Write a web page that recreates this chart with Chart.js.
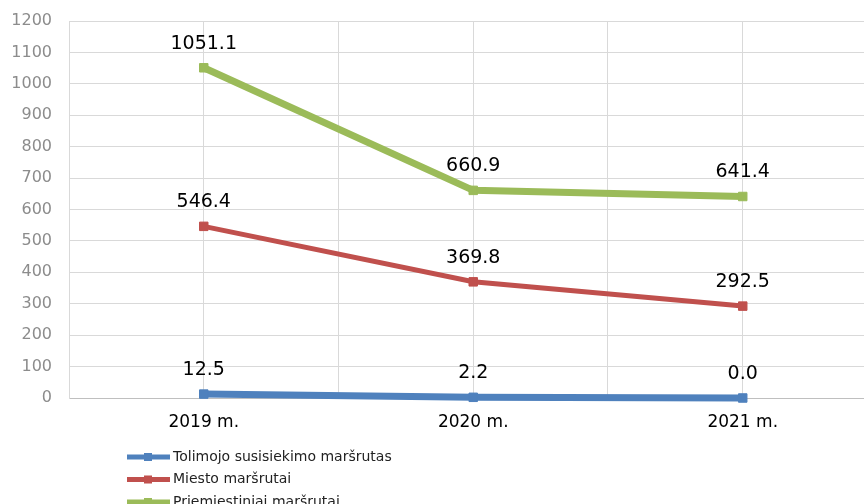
<!DOCTYPE html>
<html lang="lt">
<head>
    <meta charset="UTF-8">
    <title>Maršrutai 2019-2021</title>
    <style>
        html, body { margin: 0; padding: 0; overflow: hidden; background: #fff; }
        #myChart { display: block; }
    </style>
    <script src="https://cdn.jsdelivr.net/npm/chart.js"></script>
</head>
<body>
    <canvas id="myChart" width="864" height="504"></canvas>
    <script>
        const years = ['2019 m.', '2020 m.', '2021 m.'];
        const seriesNames = ['Tolimojo susisiekimo maršrutas', 'Miesto maršrutai', 'Priemiestiniai maršrutai'];
        const tolimojo = [12.5, 2.2, 0.0];
        const miesto = [546.4, 369.8, 292.5];
        const priemiestiniai = [1051.1, 660.9, 641.4];
        const yTicks = [0, 100, 200, 300, 400, 500, 600, 700, 800, 900, 1000, 1100, 1200];
        // grid positions on the x axis: category centres and the borders between them
        const xGrid = [0.5, 1, 1.5, 2, 2.5, 3];

        const colors = ['#4f81bd', '#c0504d', '#9bbb59'];
        const widths = [7, 5, 7];

        function toPoints(values) {
            return values.map((v, i) => ({ x: i + 1, y: v }));
        }

        // value labels above each point
        const valueLabels = {
            id: 'valueLabels',
            afterDatasetsDraw(chart) {
                const ctx = chart.ctx;
                ctx.save();
                ctx.font = '19px "DejaVu Sans"';
                ctx.fillStyle = '#000';
                ctx.textAlign = 'center';
                ctx.textBaseline = 'middle';
                chart.data.datasets.forEach((ds, di) => {
                    chart.getDatasetMeta(di).data.forEach((pt, i) => {
                        ctx.fillText(ds.data[i].y.toFixed(1), pt.x, pt.y - 24);
                    });
                });
                ctx.restore();
            }
        };

        // vertical legend at the bottom left
        const stackedLegend = {
            id: 'stackedLegend',
            afterDraw(chart) {
                const ctx = chart.ctx;
                const base = chart.chartArea.bottom;
                ctx.save();
                ctx.font = '14px "DejaVu Sans"';
                ctx.textBaseline = 'middle';
                chart.data.datasets.forEach((ds, i) => {
                    const y = base + 59 + i * 22.5;
                    ctx.strokeStyle = ds.borderColor;
                    ctx.lineWidth = 5;
                    ctx.beginPath();
                    ctx.moveTo(127, y);
                    ctx.lineTo(170, y);
                    ctx.stroke();
                    ctx.fillStyle = ds.borderColor;
                    ctx.fillRect(144, y - 4, 8, 8);
                    ctx.fillStyle = '#222';
                    ctx.fillText(ds.label, 173, y);
                });
                ctx.restore();
            }
        };

        const allSeries = [tolimojo, miesto, priemiestiniai];

        new Chart(document.getElementById('myChart'), {
            type: 'line',
            data: {
                datasets: allSeries.map((vals, i) => ({
                    label: seriesNames[i],
                    data: toPoints(vals),
                    borderColor: colors[i],
                    backgroundColor: colors[i],
                    borderWidth: widths[i],
                    pointStyle: 'rect',
                    pointRadius: 6,
                    pointBorderWidth: 1,
                    pointHoverRadius: 6,
                    tension: 0,
                    clip: false
                }))
            },
            options: {
                responsive: false,
                animation: false,
                layout: { autoPadding: false, padding: { top: 21, right: 0, left: 0, bottom: 0 } },
                scales: {
                    x: {
                        type: 'linear',
                        min: 0.5,
                        max: 3.45, // the plot runs on past the right edge of the picture
                        afterFit(scale) { scale.height = 106; },
                        afterBuildTicks(scale) { scale.ticks = xGrid.map(v => ({ value: v })); },
                        ticks: {
                            autoSkip: false,
                            maxRotation: 0,
                            padding: 14,
                            color: '#000',
                            font: { family: 'DejaVu Sans', size: 17 },
                            callback: v => Number.isInteger(v) ? years[v - 1] : ''
                        },
                        grid: { color: '#d9d9d9', drawTicks: false },
                        border: { color: '#bfbfbf' }
                    },
                    y: {
                        min: 0,
                        max: 1200,
                        afterFit(scale) { scale.width = 69; },
                        afterBuildTicks(scale) { scale.ticks = yTicks.map(v => ({ value: v })); },
                        ticks: {
                            padding: 0,
                            color: '#8c8c8c',
                            font: { family: 'DejaVu Sans', size: 16 },
                            callback: v => String(v)
                        },
                        // invisible tick marks keep the labels away from the plot
                        grid: { color: '#d9d9d9', drawTicks: true, tickLength: 17, tickColor: 'rgba(0,0,0,0)' },
                        border: { color: '#d9d9d9' }
                    }
                },
                plugins: {
                    legend: { display: false },
                    tooltip: { enabled: false }
                }
            },
            plugins: [valueLabels, stackedLegend]
        });
    </script>
</body>
</html>
